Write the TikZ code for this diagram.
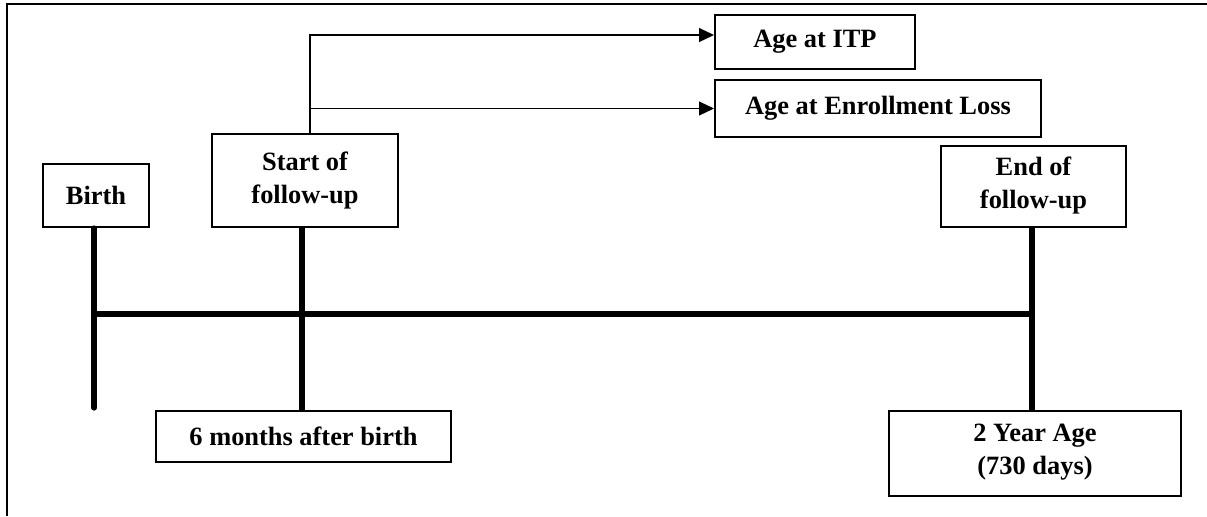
\documentclass[tikz,border=0pt]{standalone}
\usepackage{fontspec}
\setmainfont{Liberation Serif}
\usetikzlibrary{arrows.meta,positioning}

\begin{document}
\begin{tikzpicture}[
  x=0.5pt, y=-0.5pt,
  font=\bfseries\fontsize{13.2}{16.5}\selectfont,
  >={Triangle[length=7.5pt,width=7pt]},
  stage/.style={draw, line width=1pt, align=center, inner sep=0pt},
  tick/.style={line width=2.6pt},
  feed/.style={->, line width=0.6pt}
]
\useasboundingbox (0,0) rectangle (1207,516);

% outer frame (top and left only)
\draw[line width=1pt] (1207,4) -- (7,4) -- (7,516);

% boxes above the time line
\node[stage, minimum width=53pt, minimum height=31.5pt] (birth) at (96,195.5) {Birth};
\node[stage, minimum width=93pt, minimum height=46.5pt] (start) at (305,180.5) {Start of\\follow-up};
\node[stage, minimum width=92.5pt, minimum height=40.5pt, text depth=4pt] (endfu) at (1033.5,186.5) {End of\\follow-up};
\node[stage, minimum width=100pt, minimum height=27pt] (itp) at (815,42) {Age at ITP};
\node[stage, minimum width=163pt, minimum height=28.5pt] (loss) at (878,108.5) {Age at Enrollment Loss};

% boxes below the time line
\node[stage, minimum width=147.5pt, minimum height=25.5pt] (six) at (303.5,436.5) {6 months after birth};
\node[stage, minimum width=146pt, minimum height=42.5pt, text depth=4pt] (two) at (1035,453.5) {2 Year Age\\(730 days)};

% time line
\coordinate (axis) at (0,314);
\coordinate (t0) at (94,0);
\coordinate (t1) at (302,0);
\coordinate (t2) at (1032,0);
\draw[tick, line cap=round] (birth.south -| t0) -- ([yshift=1pt]t0 |- six.north);
\draw[tick] (start.south -| t1) -- (t1 |- six.north);
\draw[tick] (endfu.south -| t2) -- (t2 |- two.north);
\draw[tick] (t0 |- axis) -- (t2 |- axis);

% outcomes
\coordinate (split) at (310,35);
\draw[feed] (start.north -| split) |- (itp.west |- split);
\draw[feed] (split |- loss.west) -- (loss.west);

\end{tikzpicture}
\end{document}
